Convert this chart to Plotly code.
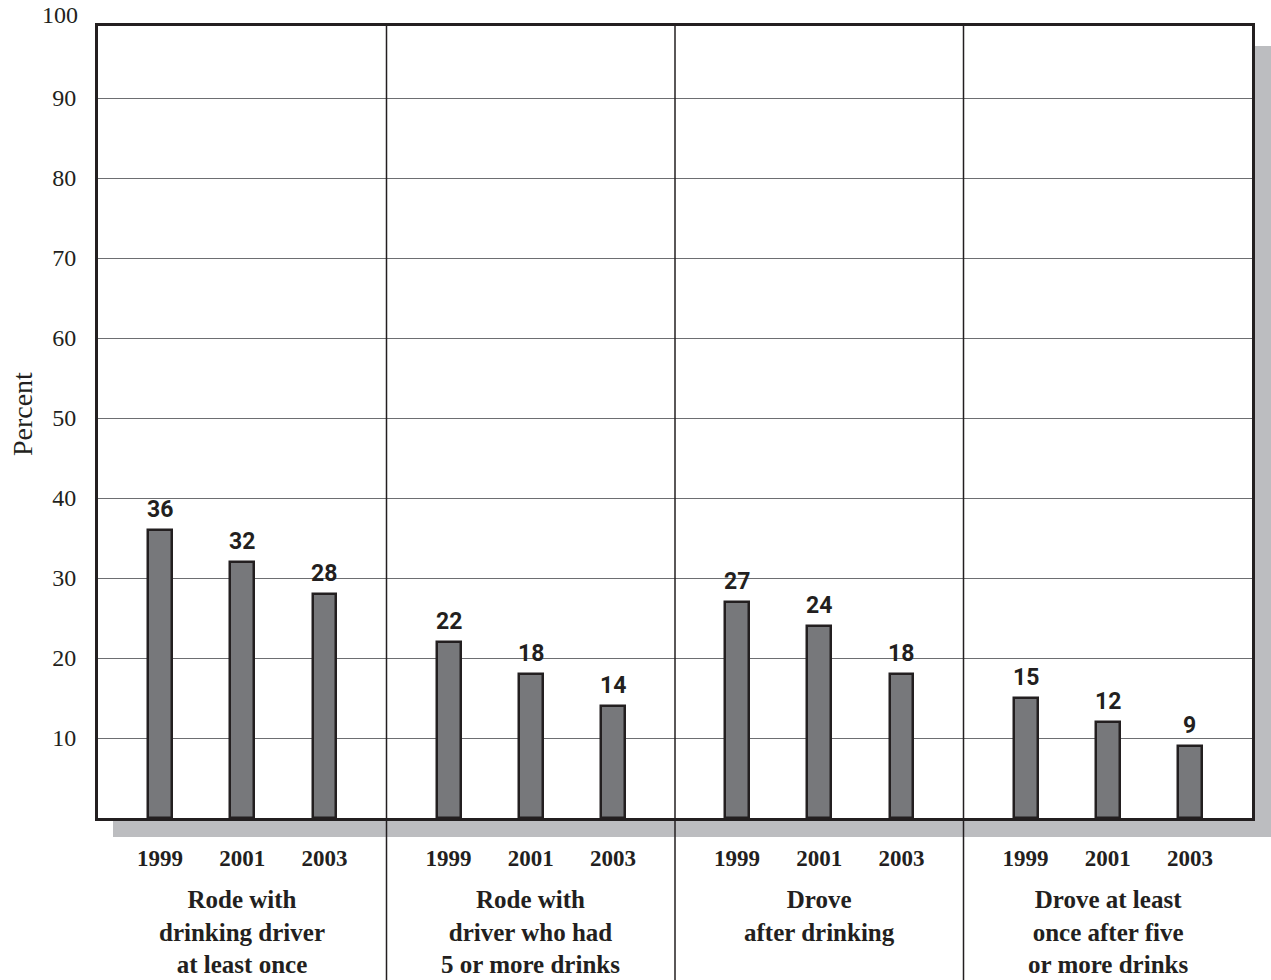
import plotly.graph_objects as go

# Survey results: percent of students reporting each behaviour, by year
groups = [
    "Rode with<br>drinking driver<br>at least once",
    "Rode with<br>driver who had<br>5 or more drinks",
    "Drove<br>after drinking",
    "Drove at least<br>once after five<br>or more drinks",
]
years = ["1999", "2001", "2003"]
values = [
    [36, 32, 28],
    [22, 18, 14],
    [27, 24, 18],
    [15, 12, 9],
]
y_ticks = [10, 20, 30, 40, 50, 60, 70, 80, 90, 100]

INK = "#231f20"
BAR = "#77787b"
SHADOW = "#bcbdc0"
GRID = "#6d6e71"
SERIF = "Liberation Serif"
NARROW = "Liberation Sans Narrow, Roboto"

W, H = 1271, 980
ML, MR, MT, MB = 98, 19, 26, 162
PW, PH = W - ML - MR, H - MT - MB
Y_MAX = 99

# year slots inside each group (group index is the centre)
slot = [-0.285, 0.0, 0.285]

xs, ys, labels = [], [], []
for gi, row in enumerate(values):
    for yi, v in enumerate(row):
        xs.append(gi + slot[yi])
        ys.append(v)
        labels.append(str(v))

fig = go.Figure()
fig.add_trace(go.Bar(
    x=xs, y=ys, width=0.083,
    marker=dict(color=BAR, line=dict(color=INK, width=2.5)),
    hoverinfo="skip",
))

annotations = []
# value labels above the bars
for x, y, t in zip(xs, ys, labels):
    annotations.append(dict(
        x=x, y=y, xref="x", yref="y", text="<b>" + t + "</b>", showarrow=False,
        yanchor="bottom", yshift=5,
        font=dict(family=NARROW, size=23, color=INK),
    ))
# group captions under the year labels
for gi, g in enumerate(groups):
    annotations.append(dict(
        x=gi, y=0, xref="x", yref="paper", text="<b>" + g + "</b>", showarrow=False,
        yanchor="top", yshift=-66,
        font=dict(family=SERIF, size=25, color=INK),
    ))
# top tick label sits above the frame
annotations.append(dict(
    x=0, y=y_ticks[-1] / Y_MAX, xref="paper", yref="paper", text=str(y_ticks[-1]),
    showarrow=False, xanchor="right", yanchor="middle", xshift=-18, yshift=3,
    font=dict(family=SERIF, size=24, color=INK),
))
# rotated axis title
annotations.append(dict(
    x=0, y=0.51, xref="paper", yref="paper", text="Percent", showarrow=False,
    textangle=-90, xanchor="center", yanchor="middle", xshift=-76,
    font=dict(family=SERIF, size=28, color=INK),
))

shapes = [
    # drop shadow behind the frame
    dict(type="rect", xref="paper", yref="paper", layer="below",
         x0=15 / PW, x1=(PW + 19) / PW, y0=-19 / PH, y1=1 - 20 / PH,
         fillcolor=SHADOW, line=dict(width=0)),
    # white plotting surface
    dict(type="rect", xref="paper", yref="paper", layer="below",
         x0=0, x1=1, y0=0, y1=1, fillcolor="white", line=dict(width=0)),
]
# group dividers running down through the captions
for gi in range(1, len(groups)):
    shapes.append(dict(
        type="line", xref="x", yref="paper", layer="above",
        x0=gi - 0.5, x1=gi - 0.5, y0=-MB / PH, y1=1,
        line=dict(color=INK, width=1.5),
    ))

tick_x = [gi + s for gi in range(len(groups)) for s in slot]
tick_t = ["<b>" + y + "</b>" for _ in groups for y in years]

fig.update_layout(
    width=W, height=H,
    margin=dict(l=ML, r=MR, t=MT, b=MB),
    paper_bgcolor="white", plot_bgcolor="rgba(0,0,0,0)",
    showlegend=False,
    bargap=0,
    xaxis=dict(
        range=[-0.5, len(groups) - 0.5], showgrid=False, zeroline=False,
        tickvals=tick_x, ticktext=tick_t, ticks="", ticklabelstandoff=17,
        tickfont=dict(family=SERIF, size=23, color=INK),
        showline=True, linecolor=INK, linewidth=3, mirror=True,
    ),
    yaxis=dict(
        range=[0, Y_MAX], tickvals=[t for t in y_ticks if t < Y_MAX],
        showgrid=True, gridcolor=GRID, gridwidth=1, zeroline=False,
        ticks="", ticklabelstandoff=14,
        tickfont=dict(family=SERIF, size=24, color=INK),
        showline=True, linecolor=INK, linewidth=3, mirror=True,
    ),
    annotations=annotations,
    shapes=shapes,
)

fig.write_html("out.html")
